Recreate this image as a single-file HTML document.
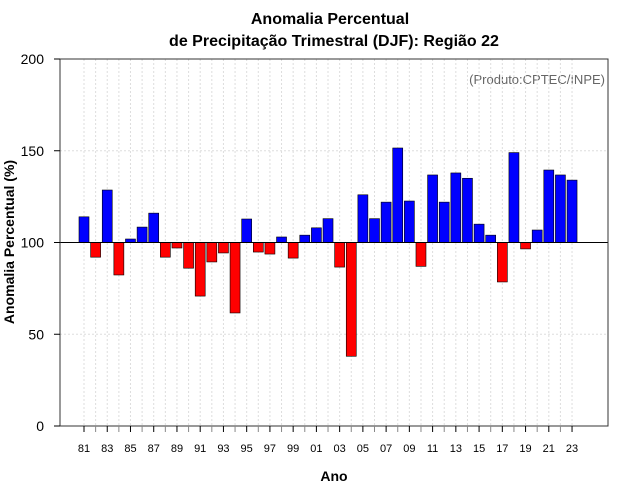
<!DOCTYPE html>
<html><head><meta charset="utf-8"><style>body{margin:0;background:#fff}svg{display:block;font-family:"Liberation Sans",sans-serif}</style></head>
<body>
<svg id="c" width="640" height="500">
<text x="330" y="24" text-anchor="middle" font-size="16" font-weight="bold">Anomalia Percentual</text>
<text x="334" y="46" text-anchor="middle" font-size="16" font-weight="bold">de Precipitação Trimestral (DJF): Região 22</text>
<text x="605" y="84" text-anchor="end" font-size="13" fill="#666">(Produto:CPTEC/INPE)</text>
<text x="334" y="481" text-anchor="middle" font-size="14" font-weight="bold">Ano</text>
<text transform="translate(14,242) rotate(-90)" text-anchor="middle" font-size="14" font-weight="bold">Anomalia Percentual (%)</text>
<g id="grid"></g><g id="bars"></g><g id="axes"></g>
</svg>
<script>
const years=[1981,1982,1983,1984,1985,1986,1987,1988,1989,1990,1991,1992,1993,1994,1995,1996,1997,1998,1999,2000,2001,2002,2003,2004,2005,2006,2007,2008,2009,2010,2011,2012,2013,2014,2015,2016,2017,2018,2019,2020,2021,2022,2023];
const values=[114,92,128.6,82.3,101.9,108.4,116,92,97,86,70.8,89.4,94.3,61.6,112.8,94.8,93.7,103,91.5,104,108,113,86.6,38,126,113,122,151.5,122.6,87,136.8,122,137.9,135,110,104,78.5,149,96.5,106.8,139.5,136.8,134];
const yTicks=[0,50,100,150,200];
const NS='http://www.w3.org/2000/svg';
const L=60,R=608,T=59,B=426;
const x=y=>84+(y-1981)*11.62;
const yv=v=>B-(v/200)*(B-T);
function mk(p,t,a){const e=document.createElementNS(NS,t);for(const k in a)e.setAttribute(k,a[k]);p.appendChild(e);return e;}
const grid=document.getElementById('grid'),bars=document.getElementById('bars'),axes=document.getElementById('axes');
years.forEach(yr=>{const g=mk(grid,'line',{x1:x(yr),x2:x(yr),y1:T,y2:B,stroke:'#ddd','stroke-dasharray':'2,2'});

});
yTicks.forEach(t=>{const g=mk(grid,'line',{x1:L,x2:R,y1:yv(t),y2:yv(t),stroke:'#ddd','stroke-dasharray':'2,2'});

});
years.forEach((yr,i)=>{const v=values[i];const top=Math.min(yv(v),yv(100)),h=Math.abs(yv(v)-yv(100));
const r=mk(bars,'rect',{x:x(yr)-5,y:top,width:10,height:h,fill:v>=100?'#0000ff':'#ff0000',stroke:'#000','stroke-width':0.6});

});
const ref=mk(axes,'line',{x1:L,x2:R,y1:yv(100),y2:yv(100),stroke:'#000','stroke-width':1});


const box=mk(axes,'rect',{x:L,y:T,width:R-L,height:B-T,fill:'none',stroke:'#333','stroke-width':1});


yTicks.forEach(t=>{mk(axes,'line',{x1:L-6,x2:L,y1:yv(t),y2:yv(t),stroke:'#000'});
const tx=mk(axes,'text',{x:L-16,y:yv(t)+5,'text-anchor':'end','font-size':14});tx.textContent=t;

});
years.forEach(yr=>{const odd=yr%2===1;mk(axes,'line',{x1:x(yr),x2:x(yr),y1:B,y2:B+6,stroke:odd?'#000':'#888'});
if(odd){const tx=mk(axes,'text',{x:x(yr),y:B+26,'text-anchor':'middle','font-size':11});tx.textContent=String(yr%100).padStart(2,'0');

}});
</script>
</body></html>
